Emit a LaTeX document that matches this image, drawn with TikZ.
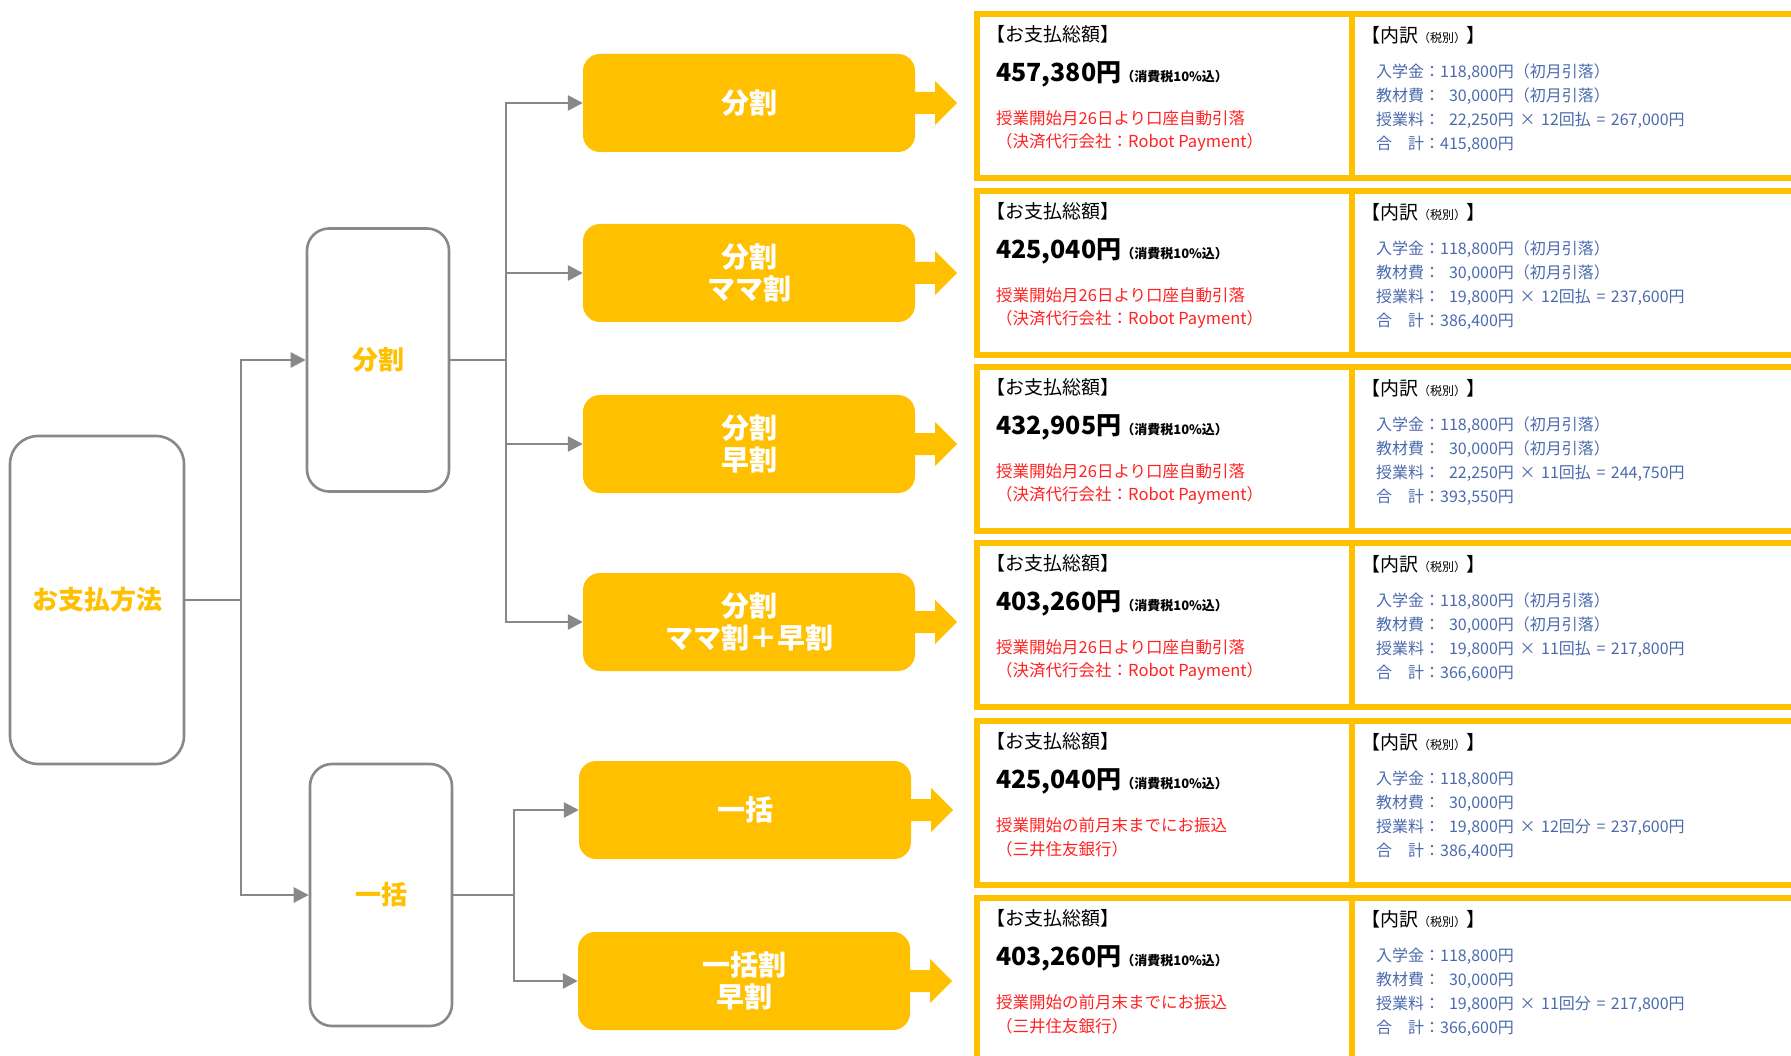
\documentclass[tikz,border=0pt]{standalone}
\usepackage{fontspec}
\usepackage{calc}
\setmainfont{Noto Sans CJK JP}
\usetikzlibrary{arrows.meta}

\definecolor{gold}{HTML}{FFC000}
\definecolor{linegray}{HTML}{888888}
\definecolor{notered}{HTML}{FF2222}
\definecolor{detailblue}{HTML}{4A6AAD}

\newcommand{\debitnote}{授業開始月26日より口座自動引落}
\newcommand{\debitvia}{（決済代行会社：Robot Payment）}
\newcommand{\banknote}{授業開始の前月末までにお振込}
\newcommand{\bankvia}{（三井住友銀行）}
\newcommand{\firstpay}{（初月引落）}
\newcommand{\nopay}{}
\newcommand{\amount}[1]{\makebox[\widthof{118,800}][r]{#1}}
\newcommand{\opsign}[1]{\hspace{0.35em}#1\hspace{0.35em}}

\begin{document}
\begin{tikzpicture}[x=1pt, y=-1pt,
    treebox/.style={draw=linegray, line width=2.6pt, fill=white,
                    rounded corners=22pt, text=gold,
                    font=\fontsize{26}{26}\selectfont\bfseries},
    planbox/.style={fill=gold, rounded corners=17pt, minimum width=332,
                    minimum height=98, text=white, align=center,
                    font=\fontsize{28}{32}\selectfont\bfseries},
    frame/.style={draw=gold, line width=6pt, minimum height=164,
                  anchor=north west, inner sep=0},
    link/.style={draw=linegray, line width=2.6pt,
                 -{Triangle[length=15pt,width=15pt]}},
    txt/.style={anchor=west, inner sep=0}]
  \useasboundingbox (0,0) rectangle (1791,1056);
  \clip (0,0) rectangle (1791,1056);

  \node[treebox, minimum width=174, minimum height=328, rounded corners=28pt] (root) at (97,600) {お支払方法};
  \node[treebox, minimum width=142, minimum height=263] (split) at (378,360) {分割};
  \node[treebox, minimum width=142, minimum height=262] (lump) at (381,895) {一括};

  \node[planbox] (p1) at (749,103) {分割};
  \node[planbox] (p2) at (749,273) {分割\\ママ割};
  \node[planbox] (p3) at (749,444) {分割\\早割};
  \node[planbox] (p4) at (749,622) {分割\\ママ割＋早割};
  \node[planbox] (p5) at (745,810) {一括};
  \node[planbox] (p6) at (744,981) {一括割\\早割};

  \coordinate (trunk) at (241,600);
  \coordinate (fork1) at (506,360);
  \coordinate (fork2) at (514,895);
  \draw[linegray, line width=2.6pt] (root.east) -- (trunk) (split.east) -- (fork1) (lump.east) -- (fork2);
  \draw[link] (trunk) |- (split.west);
  \draw[link] (trunk) |- (lump.west);
  \foreach \i in {1,...,4}
    \draw[link] (fork1) |- (p\i.west);
  \foreach \i in {5,6}
    \draw[link] (fork2) |- (p\i.west);

  \foreach \i in {1,...,6}
    \fill[gold] (p\i.east) ++(-1,-11) -- ++(21,0) -- ++(0,-11) -- ++(22,22)
      -- ++(-22,22) -- ++(0,-11) -- ++(-21,0) -- cycle;

  \foreach \i/\rowy/\payall/\fee/\cnt/\unitword/\tuition/\grand/\noteA/\noteB/\extra in {
      1/8/457{,}380/22{,}250/12/払/267{,}000/415{,}800/\debitnote/\debitvia/\firstpay,
      2/185/425{,}040/19{,}800/12/払/237{,}600/386{,}400/\debitnote/\debitvia/\firstpay,
      3/361/432{,}905/22{,}250/11/払/244{,}750/393{,}550/\debitnote/\debitvia/\firstpay,
      4/537/403{,}260/19{,}800/11/払/217{,}800/366{,}600/\debitnote/\debitvia/\firstpay,
      5/715/425{,}040/19{,}800/12/分/237{,}600/386{,}400/\banknote/\bankvia/\nopay,
      6/892/403{,}260/19{,}800/11/分/217{,}800/366{,}600/\banknote/\bankvia/\nopay}{
    \node[frame, minimum width=375] (sum\i) at (974,\rowy+3) {};
    \node[frame, minimum width=460] (det\i) at (1349,\rowy+3) {};
    \node[txt, font=\fontsize{19}{19}\selectfont] (head\i) at (986,\rowy+26) {【お支払総額】};
    \node[txt] (total\i) at (996,\rowy+66)
      {{\fontsize{25}{25}\selectfont\bfseries\payall 円}{\fontsize{13}{13}\selectfont\bfseries（消費税10\%込）}};
    \node[txt, text=notered, font=\fontsize{16.5}{16.5}\selectfont] (note\i) at (996,\rowy+110) {\noteA};
    \node[txt, text=notered, font=\fontsize{16.5}{16.5}\selectfont] (via\i) at (996,\rowy+134) {\noteB};
    \node[txt, font=\fontsize{19}{19}\selectfont] (dhead\i) at (1361,\rowy+27)
      {【内訳{\fontsize{12}{12}\selectfont（税別）}】};
    \node[txt, text=detailblue, font=\fontsize{16}{16}\selectfont] (entry\i) at (1376,\rowy+64) {入学金：118,800円\extra};
    \node[txt, text=detailblue, font=\fontsize{16}{16}\selectfont] (book\i) at (1376,\rowy+88) {教材費：\amount{30,000}円\extra};
    \node[txt, text=detailblue, font=\fontsize{16}{16}\selectfont] (tuit\i) at (1376,\rowy+112)
      {授業料：\amount{\fee}円\opsign{×}\cnt 回\unitword\opsign{=}\tuition 円};
    \node[txt, text=detailblue, font=\fontsize{16}{16}\selectfont] (all\i) at (1376,\rowy+136) {合　計：\grand 円};
  }
\end{tikzpicture}
\end{document}
